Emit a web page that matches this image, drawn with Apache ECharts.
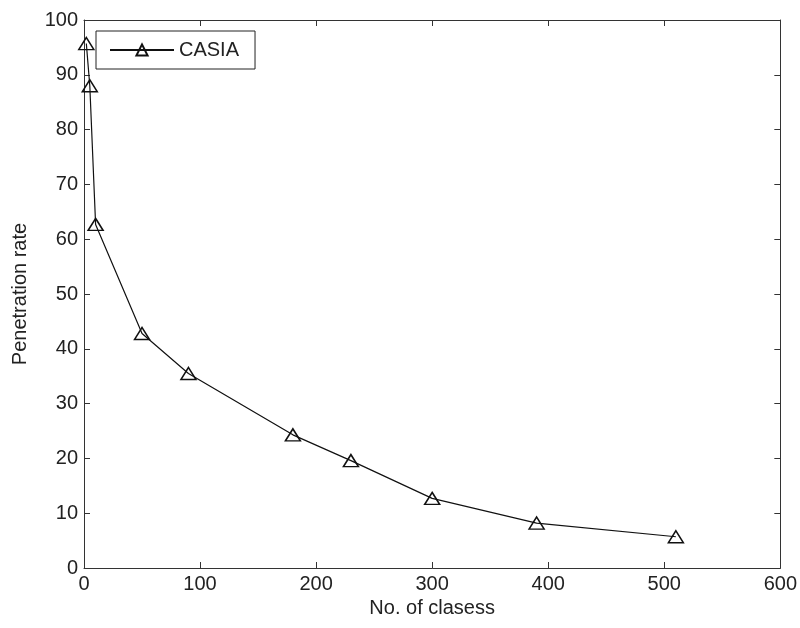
<!DOCTYPE html>
<html>
<head>
<meta charset="utf-8">
<script src="https://cdn.jsdelivr.net/npm/echarts@6/dist/echarts.min.js"></script>
<style>
  html, body { margin: 0; padding: 0; background: #fff; }
  #chart { width: 800px; height: 628px; }
</style>
</head>
<body>
<div id="chart"></div>
<script>
const classes = [2, 5, 10, 50, 90, 180, 230, 300, 390, 510];
const penetration = [95.7, 88, 62.7, 42.8, 35.5, 24.3, 19.6, 12.7, 8.2, 5.7];
const seriesName = 'CASIA';

const font = 'Liberation Sans, Arial, sans-serif';
const ink = '#222';

const chart = echarts.init(document.getElementById('chart'));

// plain value axis used for all four sides of the box, ticks pointing in
const boxAxis = (extra) => Object.assign({
  type: 'value',
  axisLine: { show: true, onZero: false, lineStyle: { color: '#333', width: 1 } },
  axisTick: { show: true, inside: true, length: 6, lineStyle: { color: '#333' } },
  splitLine: { show: false },
  axisLabel: { show: false }
}, extra);

chart.setOption({
  animation: false,
  backgroundColor: '#fff',
  grid: { left: 84, right: 19, top: 20, bottom: 60 },
  legend: {
    left: 96, top: 31,
    padding: [9, 16, 9, 13],
    borderColor: '#222', borderWidth: 1,
    backgroundColor: '#fff',
    itemWidth: 64, itemHeight: 14, itemGap: 8,
    textStyle: { fontFamily: font, fontSize: 20, color: ink },
    data: [seriesName]
  },
  xAxis: [
    boxAxis({
      min: 0, max: 600, interval: 100, position: 'bottom',
      name: 'No. of clasess', nameLocation: 'middle', nameGap: 30,
      nameTextStyle: { fontFamily: font, fontSize: 20, color: ink },
      axisLabel: { show: true, fontFamily: font, fontSize: 20, color: ink, margin: 6 }
    }),
    boxAxis({ min: 0, max: 600, interval: 100, position: 'top' })
  ],
  yAxis: [
    boxAxis({
      min: 0, max: 100, interval: 10, position: 'left',
      name: 'Penetration rate', nameLocation: 'middle', nameGap: 54,
      nameTextStyle: { fontFamily: font, fontSize: 20, color: ink },
      axisLabel: { show: true, fontFamily: font, fontSize: 20, color: ink, margin: 6 }
    }),
    boxAxis({ min: 0, max: 100, interval: 10, position: 'right' })
  ],
  series: [{
    name: seriesName,
    type: 'line',
    xAxisIndex: 0,
    yAxisIndex: 0,
    data: classes.map((c, i) => [c, penetration[i]]),
    symbol: 'triangle',
    symbolSize: [15, 12],
    showAllSymbol: true,
    lineStyle: { color: '#111', width: 1.2 },
    itemStyle: { color: 'rgba(255,255,255,0)', borderColor: '#111', borderWidth: 1.5 }
  }]
});
</script>
</body>
</html>
